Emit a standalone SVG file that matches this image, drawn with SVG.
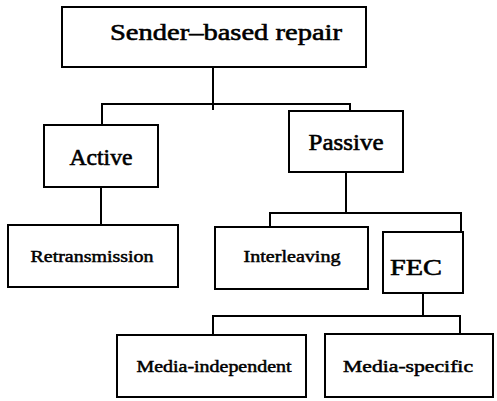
<svg xmlns="http://www.w3.org/2000/svg" width="497" height="401" viewBox="0 0 497 401">
  <style>
    .box { fill: #fff; stroke: #000; stroke-width: 2; }
    .wire { fill: none; stroke: #000; stroke-width: 2; }
    .lbl { font-family: 'Liberation Serif', 'Times New Roman', serif; font-weight: normal; fill: #000; stroke: #000; stroke-width: 0.6; text-anchor: middle; }
    .big { font-size: 24px; }
    .mid { font-size: 23px; }
    .small { font-size: 17px; stroke-width: 0.5; }
  </style>
  <rect width="497" height="401" fill="#fff"/>

  <!-- connectors -->
  <g id="connectors">
    <path class="wire" d="M213 67 V110 M102 125 V104 H350 V111"/>
    <path class="wire" d="M101 187 V225"/>
    <path class="wire" d="M346 172 V213 M270 227 V213 H461 V232"/>
    <path class="wire" d="M423 293 V316 M213 335 V316 H460 V334"/>
  </g>

  <g id="sender-based-repair">
    <rect class="box" x="62" y="7" width="304" height="60"/>
    <text class="lbl big" x="226" y="40" textLength="232" lengthAdjust="spacingAndGlyphs">Sender–based repair</text>
  </g>

  <g id="active">
    <rect class="box" x="44" y="125" width="114" height="62"/>
    <text class="lbl mid" x="101" y="165" textLength="63" lengthAdjust="spacingAndGlyphs">Active</text>
  </g>

  <g id="passive">
    <rect class="box" x="289" y="111" width="114" height="61"/>
    <text class="lbl mid" x="346" y="150" textLength="75" lengthAdjust="spacingAndGlyphs">Passive</text>
  </g>

  <g id="retransmission">
    <rect class="box" x="8" y="225" width="170" height="62"/>
    <text class="lbl small" x="92" y="262" textLength="123" lengthAdjust="spacingAndGlyphs">Retransmission</text>
  </g>

  <g id="interleaving">
    <rect class="box" x="215" y="227" width="153" height="62"/>
    <text class="lbl small" x="292" y="262" textLength="97" lengthAdjust="spacingAndGlyphs">Interleaving</text>
  </g>

  <g id="fec">
    <rect class="box" x="383" y="232" width="80" height="61"/>
    <text class="lbl big" x="416" y="275" textLength="52" lengthAdjust="spacingAndGlyphs">FEC</text>
  </g>

  <g id="media-independent">
    <rect class="box" x="117" y="335" width="189" height="62"/>
    <text class="lbl small" x="214" y="372" textLength="155" lengthAdjust="spacingAndGlyphs">Media-independent</text>
  </g>

  <g id="media-specific">
    <rect class="box" x="325" y="334" width="168" height="63"/>
    <text class="lbl small" x="408" y="372" textLength="130" lengthAdjust="spacingAndGlyphs">Media-specific</text>
  </g>
</svg>
